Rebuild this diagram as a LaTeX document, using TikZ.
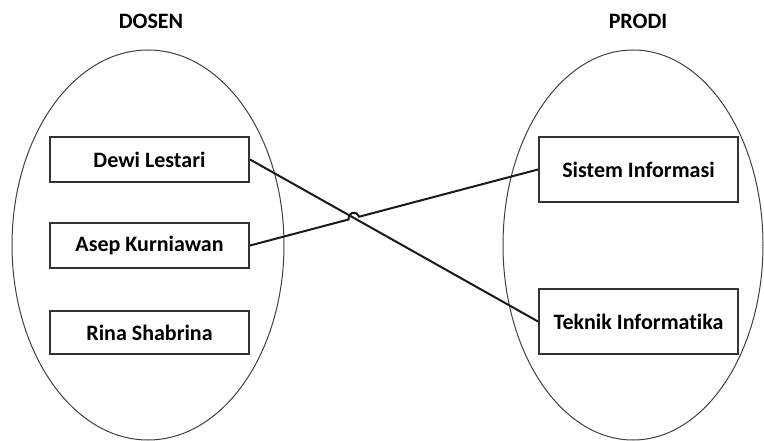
\documentclass[tikz,border=0pt]{standalone}
\usepackage{fontspec}
\setmainfont{Carlito}[Ligatures=NoCommon]
\usepackage{tikz}
\usetikzlibrary{calc}
\tikzset{
    himpunan/.style = {draw=black!75, line width=1pt},
    entitas/.style  = {draw=black!80, line width=2pt, minimum width=199pt,
                       inner sep=0pt, font=\fontsize{22}{26}\selectfont\bfseries},
    judul/.style    = {font=\fontsize{22}{26}\selectfont\bfseries, inner sep=0pt},
    relasi/.style   = {draw=black!90, line width=2pt}
}
\begin{document}
\begin{tikzpicture}[x=1pt, y=-1pt]
    \useasboundingbox (0,0) rectangle (764,441);

    % --- Himpunan ---
    \draw[himpunan] (148,245) ellipse [x radius=136, y radius=195];
    \draw[himpunan] (633,245) ellipse [x radius=130, y radius=195];
    \node[judul] (dosen) at (151,21) {DOSEN};
    \node[judul] (prodi) at (638,21) {PRODI};

    % --- Dosen ---
    \node[entitas, minimum height=45pt] (dewi) at (149.5,159.5) {Dewi Lestari};
    \node[entitas, minimum height=45pt] (asep) at (149.5,245.5) {Asep Kurniawan};
    \node[entitas, minimum height=43pt] (rina) at (149.5,332.5) {Rina Shabrina};

    % --- Prodi ---
    \node[entitas, minimum height=65pt] (si) at (638.5,169.5) {Sistem Informasi};
    \node[entitas, minimum height=65pt] (ti) at (638.5,321.5) {Teknik Informatika};

    % --- Relasi ---
    \draw[relasi] (dewi.east) -- (ti.west);
    \draw[relasi] (asep.east) -- ($(asep.east)!0.342!(si.west)$)
        arc[start angle=165.3, end angle=345.3, radius=5.5] -- (si.west);
\end{tikzpicture}
\end{document}
